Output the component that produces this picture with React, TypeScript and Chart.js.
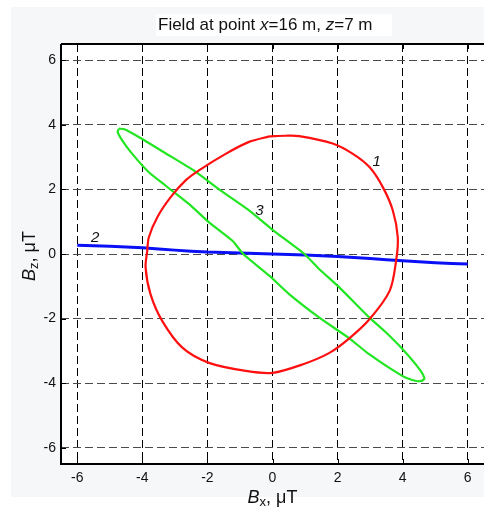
import React, { useEffect, useRef } from "react";
import { Chart, registerables } from "chart.js";

Chart.register(...registerables);

// Curve 1 (red)
const curve1Bx = [-0.1, 0.4, 0.82, 1.85, 2.47, 2.98, 3.39, 3.7, 3.85, 3.8, 3.6, 2.98, 2.36, 1.75, 0.92, 0, -0.82, -1.95, -2.77, -3.39, -3.75, -3.9, -3.85, -3.8, -3.54, -3.13, -2.67, -2.26, -1.44, -0.72, -0.1];
const curve1Bz = [3.64, 3.66, 3.65, 3.42, 3.1, 2.69, 2.07, 1.34, 0.52, -0.2, -1.14, -2.02, -2.61, -3.06, -3.42, -3.68, -3.62, -3.37, -2.9, -2.07, -1.24, -0.42, 0.1, 0.52, 1.14, 1.76, 2.28, 2.59, 3.1, 3.47, 3.64];

// Curve 2 (blue)
const curve2Bx = [-6, -5, -4, -3, -2, -1, 0, 1, 2, 3, 4, 5, 6];
const curve2Bz = [0.27, 0.24, 0.19, 0.12, 0.06, 0.03, 0.0, -0.03, -0.08, -0.14, -0.21, -0.27, -0.31];

// Curve 3 (green)
const curve3Bx = [-4.72, -4.55, -4.11, -3.29, -2.38, -1.6, -0.75, 0, 0.98, 1.44, 2.06, 2.98, 3.49, 4.0, 4.52, 4.67, 4.6, 4.42, 4.0, 2.98, 2.36, 1.44, 0.51, -0.1, -0.9, -1.23, -1.95, -2.57, -3.29, -3.8, -4.31, -4.62, -4.76, -4.72];
const curve3Bz = [3.88, 3.86, 3.62, 3.12, 2.56, 1.97, 1.37, 0.75, 0.0, -0.47, -1.04, -1.97, -2.43, -2.95, -3.57, -3.85, -3.92, -3.93, -3.78, -3.11, -2.61, -1.97, -1.24, -0.67, 0.0, 0.41, 0.98, 1.55, 2.12, 2.53, 3.1, 3.52, 3.78, 3.88];

const xTickValues = [-6, -4, -2, 0, 2, 4, 6];
const yTickValues = [-6, -4, -2, 0, 2, 4, 6];

const curveLabels = ["1", "2", "3"];
const curveLabelBx = [3.2, -5.45, -0.4];
const curveLabelBz = [2.85, 0.5, 1.35];

const FONT = "'Liberation Sans', Arial, sans-serif";

const toPoints = (xs: number[], ys: number[]) => xs.map((x, i) => ({ x, y: ys[i] }));

type Seg = { t: string; italic?: boolean; size: number; dy?: number };

function drawSegs(ctx: CanvasRenderingContext2D, segs: Seg[], x: number, y: number, align: "left" | "center") {
  let total = 0;
  const widths = segs.map((s) => {
    ctx.font = `${s.italic ? "italic " : ""}${s.size}px ${FONT}`;
    const w = ctx.measureText(s.t).width;
    total += w;
    return w;
  });
  let cx = align === "center" ? x - total / 2 : x;
  ctx.textAlign = "left";
  ctx.textBaseline = "alphabetic";
  segs.forEach((s, i) => {
    ctx.font = `${s.italic ? "italic " : ""}${s.size}px ${FONT}`;
    ctx.fillText(s.t, cx, y + (s.dy || 0));
    cx += widths[i];
  });
}

const decor = {
  id: "decor",
  beforeDraw(chart: any) {
    const ctx = chart.ctx as CanvasRenderingContext2D;
    const a = chart.chartArea;
    ctx.save();
    ctx.fillStyle = "#ffffff";
    ctx.fillRect(0, 0, chart.width, chart.height);
    ctx.fillStyle = "#f6f7f9";
    ctx.fillRect(11, 7, chart.width - 11, 490);
    ctx.fillStyle = "#ffffff";
    ctx.fillRect(a.left, a.top, a.right - a.left, a.bottom - a.top);
    ctx.fillRect(156, 14, 236, 22);
    ctx.restore();
  },
  afterDraw(chart: any) {
    const ctx = chart.ctx as CanvasRenderingContext2D;
    const a = chart.chartArea;
    const xs = chart.scales.x;
    const ys = chart.scales.y;
    ctx.save();
    // axes box
    ctx.strokeStyle = "#000";
    ctx.lineWidth = 2;
    ctx.beginPath();
    ctx.moveTo(a.left, a.top);
    ctx.lineTo(a.left, a.bottom);
    ctx.lineTo(a.right + 1, a.bottom);
    ctx.moveTo(a.left, a.top);
    ctx.lineTo(a.right + 1, a.top);
    ctx.stroke();
    // inward ticks
    ctx.lineWidth = 1;
    ctx.beginPath();
    xTickValues.forEach((v) => {
      const px = Math.round(xs.getPixelForValue(v)) + 0.5;
      ctx.moveTo(px, a.bottom);
      ctx.lineTo(px, a.bottom - 5);
      ctx.moveTo(px, a.top);
      ctx.lineTo(px, a.top + 5);
    });
    yTickValues.forEach((v) => {
      const py = Math.round(ys.getPixelForValue(v)) + 0.5;
      ctx.moveTo(a.left, py);
      ctx.lineTo(a.left + 5, py);
    });
    ctx.stroke();

    ctx.fillStyle = "#111";
    // title
    drawSegs(ctx, [
      { t: "Field at point ", size: 17 },
      { t: "x", size: 17, italic: true },
      { t: "=16 m, ", size: 17 },
      { t: "z", size: 17, italic: true },
      { t: "=7 m", size: 17 },
    ], 158, 30, "left");

    // x axis title
    drawSegs(ctx, [
      { t: "B", size: 18, italic: true },
      { t: "x", size: 13, dy: 3 },
      { t: ", \u03bcT", size: 18 },
    ], (a.left + a.right) / 2, 503, "center");

    // y axis title
    ctx.save();
    ctx.translate(35, (a.top + a.bottom) / 2 + 2);
    ctx.rotate(-Math.PI / 2);
    drawSegs(ctx, [
      { t: "B", size: 18, italic: true },
      { t: "z", size: 13, dy: 3 },
      { t: ", \u03bcT", size: 18 },
    ], 0, 0, "center");
    ctx.restore();

    // curve labels
    ctx.font = `italic 15px ${FONT}`;
    ctx.textAlign = "center";
    ctx.textBaseline = "middle";
    curveLabels.forEach((t, i) => {
      ctx.fillText(t, xs.getPixelForValue(curveLabelBx[i]), ys.getPixelForValue(curveLabelBz[i]));
    });
    ctx.restore();
  },
};

export default function App() {
  const ref = useRef<HTMLCanvasElement | null>(null);
  useEffect(() => {
    document.body.style.margin = "0";
    const canvas = ref.current!;
    const chart = new Chart(canvas, {
      type: "scatter",
      data: {
        datasets: [
          { data: toPoints(curve1Bx, curve1Bz), borderColor: "#ff1010", borderWidth: 2.2, showLine: true, pointRadius: 0, tension: 0.3, fill: false },
          { data: toPoints(curve3Bx, curve3Bz), borderColor: "#22e622", borderWidth: 2.2, showLine: true, pointRadius: 0, tension: 0.2, fill: false },
          { data: toPoints(curve2Bx, curve2Bz), borderColor: "#0a10f5", borderWidth: 3, showLine: true, pointRadius: 0, tension: 0.2, fill: false },
        ],
      },
      options: {
        animation: false,
        responsive: false,
        devicePixelRatio: 1,
        layout: { padding: { left: 0, top: 44, right: 0, bottom: 0 } },
        plugins: { legend: { display: false }, tooltip: { enabled: false }, title: { display: false } },
        scales: {
          x: {
            type: "linear",
            min: -6.5,
            max: 6.5,
            afterFit: (s: any) => { s.height = 43; },
            afterBuildTicks: (s: any) => { s.ticks = xTickValues.map((v) => ({ value: v })); },
            grid: { color: "#000", lineWidth: 1, drawTicks: false },
            border: { display: false, dash: [8, 4] },
            ticks: { color: "#111", font: { family: FONT, size: 14 }, padding: 6, maxRotation: 0 },
          },
          y: {
            type: "linear",
            min: -6.5,
            max: 6.5,
            afterFit: (s: any) => { s.width = 61; },
            afterBuildTicks: (s: any) => { s.ticks = yTickValues.map((v) => ({ value: v })); },
            grid: { color: "#4a4a4a", lineWidth: 1, drawTicks: false },
            border: { display: false, dash: [8, 4] },
            ticks: { color: "#111", font: { family: FONT, size: 14 }, padding: 5 },
          },
        },
      },
      plugins: [decor],
    });
    return () => chart.destroy();
  }, []);
  return (
    <div style={{ position: "fixed", left: 0, top: 0 }}>
      <canvas ref={ref} width={484} height={507} style={{ display: "block", width: 484, height: 507 }} />
    </div>
  );
}
